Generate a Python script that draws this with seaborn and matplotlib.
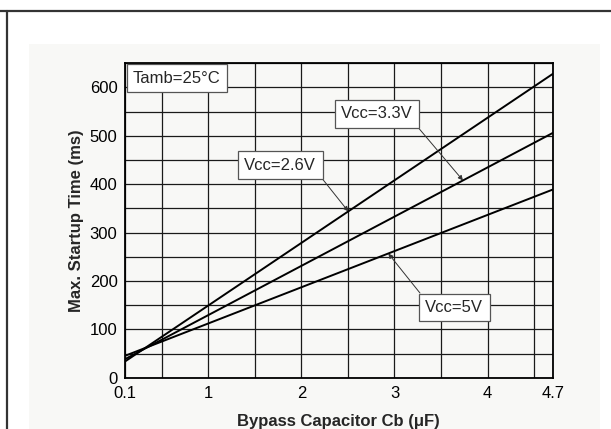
import numpy as np
import pandas as pd
import matplotlib
matplotlib.use('Agg')
import matplotlib.pyplot as plt
import seaborn as sns
from matplotlib.lines import Line2D
from matplotlib.patches import Rectangle

# values (straight lines, end points)
cap_uF = [0.1, 4.7]
t_26v = [33, 628]
t_33v = [38, 506]
t_5v = [45, 389]
series_names = ['Vcc=2.6V', 'Vcc=3.3V', 'Vcc=5V']
x_ticks = [0.1, 1, 2, 3, 4, 4.7]
x_tick_labels = ['0.1', '1', '2', '3', '4', '4.7']
y_ticks = [0, 100, 200, 300, 400, 500, 600]

df = pd.DataFrame({
    'cap': cap_uF * 3,
    'time': t_26v + t_33v + t_5v,
    'vcc': [series_names[0]] * 2 + [series_names[1]] * 2 + [series_names[2]] * 2,
})

sns.set_theme(style='white')
plt.rcParams['font.family'] = ['Liberation Sans', 'DejaVu Sans']

fs = 12
fig = plt.figure(figsize=(6.11, 4.29), dpi=100)
fig.patch.set_facecolor('white')

# light panel + frame lines of the datasheet page
fig.add_artist(Rectangle((29 / 611, 0), (600 - 29) / 611, 1 - 43.7 / 429,
                         transform=fig.transFigure, facecolor='#f8f8f6',
                         edgecolor='none', zorder=-10))
fig.add_artist(Line2D([0, 1], [1 - 11 / 429, 1 - 11 / 429], transform=fig.transFigure,
                      color='#333333', lw=1.6, zorder=-10))
fig.add_artist(Line2D([6.7 / 611, 6.7 / 611], [0, 1 - 11 / 429], transform=fig.transFigure,
                      color='#333333', lw=1.6, zorder=-10))

ax = fig.add_axes([124.5 / 611, 1 - 377.8 / 429, 428.2 / 611, 314.5 / 429])
ax.set_facecolor('#f8f8f6')

sns.lineplot(data=df, x='cap', y='time', hue='vcc', palette=['black'] * 3,
             linewidth=1.4, legend=False, ax=ax, zorder=3)

ax.set_xlim(0.1, 4.7)
ax.set_ylim(0, 650)
ax.set_xticks(x_ticks)
ax.set_xticklabels(x_tick_labels)
ax.set_xticks(np.arange(0.5, 4.6, 0.5), minor=True)
ax.set_yticks(y_ticks)
ax.set_yticks(np.arange(50, 651, 100), minor=True)
ax.grid(True, which='both', color='#1a1a1a', linewidth=0.9)
ax.tick_params(which='both', length=0, labelsize=fs, colors='black')
ax.tick_params(axis='x', pad=6)
ax.tick_params(axis='y', pad=5)
for sp in ax.spines.values():
    sp.set_color('black')
    sp.set_linewidth(1.3)
    sp.set_visible(True)

ax.set_xlabel('Bypass Capacitor Cb (\u03bcF)', fontsize=fs, fontweight='bold', labelpad=9)
ax.set_ylabel('Max. Startup Time (ms)', fontsize=fs, fontweight='bold', labelpad=4)

box = dict(boxstyle='square,pad=0.38', facecolor='white', edgecolor='#555555', lw=0.9)
arrow = dict(arrowstyle='-|>', color='#333333', lw=0.7, mutation_scale=7, shrinkA=0, shrinkB=0)

ax.text(0.1224, 0.953, 'Tamb=25\u00b0C', transform=ax.transAxes, fontsize=fs,
        ha='center', va='center', bbox=box, zorder=5)

# labels with arrows pointing to the lines
labels = [
    (series_names[0], t_26v, 2.504, (0.3638, 0.6766), (0.4605, 0.6353)),
    (series_names[1], t_33v, 3.736, (0.5897, 0.8393), (0.6847, 0.7975)),
    (series_names[2], t_5v, 2.934, (0.7700, 0.2235), (0.6900, 0.2696)),
]
for name, ys, xp, txt_pos, start in labels:
    yp = np.interp(xp, cap_uF, ys)
    ax.annotate('', xy=(xp, yp), xycoords='data', xytext=start, textcoords='axes fraction',
                arrowprops=arrow, zorder=4)
    ax.text(txt_pos[0], txt_pos[1], name, transform=ax.transAxes, fontsize=fs,
            ha='center', va='center', bbox=box, zorder=5)

fig.savefig('out.png', dpi=100)
